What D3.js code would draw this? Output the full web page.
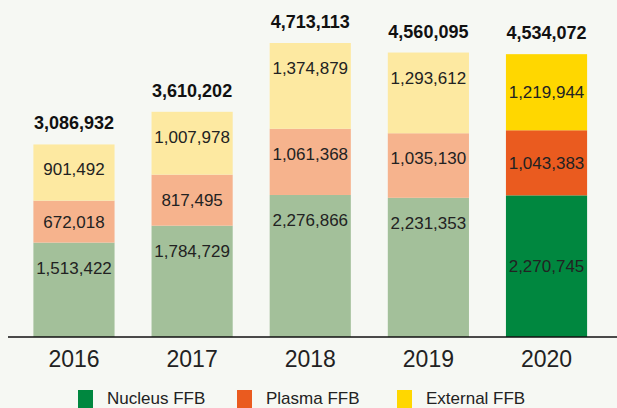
<!DOCTYPE html>
<html>
<head>
<meta charset="utf-8">
<script src="https://cdn.jsdelivr.net/npm/d3@7"></script>
<style>
  body { margin: 0; background: #f6f8f3; }
  svg { display: block; font-family: "Liberation Sans", Arial, sans-serif; }
</style>
</head>
<body>
<svg id="chart"></svg>
<script>
// data
var years = ["2016", "2017", "2018", "2019", "2020"];
var nucleus = [1513422, 1784729, 2276866, 2231353, 2270745];
var plasma = [672018, 817495, 1061368, 1035130, 1043383];
var external = [901492, 1007978, 1374879, 1293612, 1219944];
var seriesNames = ["Nucleus FFB", "Plasma FFB", "External FFB"];

var width = 617, height = 408;
var baseY = 337;

// colours: full for the latest year, faded for the others
var fullColor = ["#00873f", "#ea5b1f", "#ffd700"];
var fadedColor = ["#a3c09a", "#f6b38d", "#fde9a1"];

var rows = years.map(function (y, i) {
  return { year: y, n: nucleus[i], p: plasma[i], e: external[i] };
});
var keys = ["n", "p", "e"];
var stacked = d3.stack().keys(keys)(rows);
var totals = rows.map(function (d) { return d.n + d.p + d.e; });

var svg = d3.select("#chart").attr("width", width).attr("height", height);

var x = d3.scaleBand()
  .domain(years)
  .range([14.5, 606])
  .paddingInner(0.313)
  .paddingOuter(0.16);

var y = d3.scaleLinear()
  .domain([0, d3.max(totals)])
  .range([baseY, 43]);

var fmt = d3.format(",");
var last = years[years.length - 1];

// bars
stacked.forEach(function (layer, k) {
  var g = svg.append("g");
  g.selectAll("rect")
    .data(layer)
    .enter()
    .append("rect")
    .attr("x", function (d) { return x(d.data.year); })
    .attr("y", function (d) { return y(d[1]); })
    .attr("width", x.bandwidth())
    .attr("height", function (d) { return y(d[0]) - y(d[1]); })
    .attr("fill", function (d) {
      return d.data.year === last ? fullColor[k] : fadedColor[k];
    });

  g.selectAll("text")
    .data(layer)
    .enter()
    .append("text")
    .attr("x", function (d) { return x(d.data.year) + x.bandwidth() / 2; })
    .attr("y", function (d) {
      var top = y(d[1]), h = y(d[0]) - y(d[1]);
      if (d.data.year === last) return top + h / 2 + 6;
      return top + Math.min(h / 2 + 6, 31);
    })
    .attr("text-anchor", "middle")
    .attr("font-size", 17)
    .attr("fill", "#222")
    .text(function (d) { return fmt(d.data[keys[k]]); });
});

// totals on top
svg.append("g").selectAll("text")
  .data(rows)
  .enter()
  .append("text")
  .attr("x", function (d) { return x(d.year) + x.bandwidth() / 2; })
  .attr("y", function (d, i) { return y(totals[i]) - 15; })
  .attr("text-anchor", "middle")
  .attr("font-size", 18)
  .attr("font-weight", "bold")
  .attr("fill", "#111")
  .text(function (d, i) { return fmt(totals[i]); });

// baseline axis
var axis = svg.append("g")
  .attr("transform", "translate(0," + baseY + ")")
  .call(d3.axisBottom(x).tickSize(0).tickPadding(14));
axis.select(".domain")
  .attr("d", "M8,0H617")
  .attr("stroke", "#111")
  .attr("stroke-width", 1.5);
axis.selectAll("text")
  .attr("font-size", 23)
  .attr("font-family", "Liberation Sans, Arial, sans-serif")
  .attr("fill", "#222");

// legend
var legendX = [78, 237, 397];
var legend = svg.append("g").selectAll("g")
  .data(seriesNames)
  .enter()
  .append("g")
  .attr("transform", function (d, i) { return "translate(" + legendX[i] + ",390)"; });
legend.append("rect")
  .attr("width", 15)
  .attr("height", 18)
  .attr("fill", function (d, i) { return fullColor[i]; });
legend.append("text")
  .attr("x", 29)
  .attr("y", 14)
  .attr("font-size", 17)
  .attr("fill", "#222")
  .text(function (d) { return d; });
</script>
</body>
</html>
